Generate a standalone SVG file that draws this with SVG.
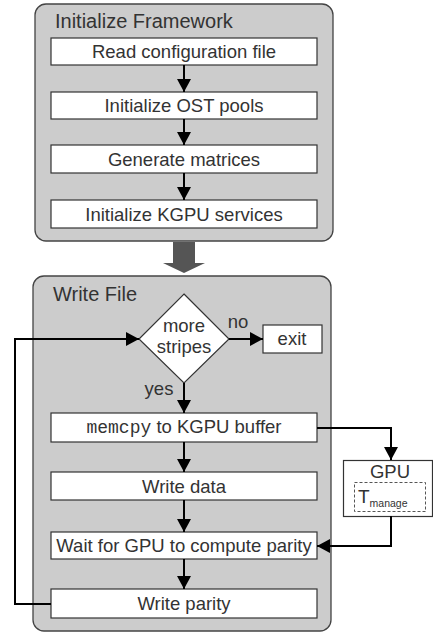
<svg xmlns="http://www.w3.org/2000/svg" width="433" height="633" viewBox="0 0 433 633">
  <style>
    .panel { fill: #cccccc; stroke: #444444; stroke-width: 1.3; }
    .step { fill: #ffffff; stroke: #333333; stroke-width: 1.2; }
    .title { font-family: "Liberation Sans", Arial, sans-serif; font-size: 20px; fill: #333333; }
    .lbl { font-family: "Liberation Sans", Arial, sans-serif; font-size: 18.5px; fill: #333333; text-anchor: middle; }
    .mono { font-family: "Liberation Mono", "Courier New", monospace; font-size: 18px; }
    .wire { fill: none; stroke: #000000; stroke-width: 2; marker-end: url(#head); }
  </style>
  <defs>
    <marker id="head" markerUnits="userSpaceOnUse" markerWidth="16" markerHeight="14" refX="13" refY="7" orient="auto">
      <path d="M0,0 L13,7 L0,14 z" fill="#000000"/>
    </marker>
  </defs>

  <rect width="433" height="633" fill="#ffffff"/>

  <!-- Initialisation panel -->
  <g id="init-panel">
    <rect class="panel" x="35" y="4" width="298" height="237" rx="11"/>
    <text class="title" x="55" y="28">Initialize Framework</text>
  </g>
  <g id="read-config">
    <rect class="step" x="51" y="38" width="266" height="27"/>
    <text class="lbl" x="184" y="58">Read configuration file</text>
  </g>
  <g id="init-ost">
    <rect class="step" x="51" y="92" width="266" height="27"/>
    <text class="lbl" x="184" y="112">Initialize OST pools</text>
  </g>
  <g id="gen-matrices">
    <rect class="step" x="51" y="145" width="266" height="28"/>
    <text class="lbl" x="184" y="166">Generate matrices</text>
  </g>
  <g id="init-kgpu">
    <rect class="step" x="51" y="200" width="266" height="28"/>
    <text class="lbl" x="184" y="221">Initialize KGPU services</text>
  </g>

  <!-- Write panel -->
  <g id="write-panel">
    <rect class="panel" x="33" y="276" width="298" height="355" rx="11"/>
    <text class="title" x="53" y="301">Write File</text>
  </g>
  <g id="more-stripes">
    <polygon points="184,294 229,339 184,383 139,339" fill="#ffffff" stroke="#333333" stroke-width="1.2"/>
    <text class="lbl" x="184" y="332">more</text>
    <text class="lbl" x="184" y="353">stripes</text>
  </g>
  <g id="exit">
    <rect class="step" x="263" y="325" width="59" height="28"/>
    <text class="lbl" x="292" y="345">exit</text>
  </g>
  <g id="memcpy">
    <rect class="step" x="51" y="413" width="266" height="29"/>
    <text class="lbl" x="184" y="433"><tspan class="mono">memcpy</tspan> to KGPU buffer</text>
  </g>
  <g id="write-data">
    <rect class="step" x="51" y="472" width="266" height="28"/>
    <text class="lbl" x="184" y="493">Write data</text>
  </g>
  <g id="wait-gpu">
    <rect class="step" x="51" y="532" width="266" height="27"/>
    <text class="lbl" x="184" y="552">Wait for GPU to compute parity</text>
  </g>
  <g id="write-parity">
    <rect class="step" x="51" y="589" width="266" height="29"/>
    <text class="lbl" x="184" y="610">Write parity</text>
  </g>

  <!-- GPU worker -->
  <g id="gpu">
    <rect class="step" x="343.5" y="460.5" width="89" height="56"/>
    <text class="lbl" x="390" y="478">GPU</text>
    <rect x="354.5" y="482.5" width="71" height="29" fill="none" stroke="#555555" stroke-width="1" stroke-dasharray="3,2"/>
    <text font-family="Liberation Sans, Arial, sans-serif" fill="#333333" x="358" y="503" font-size="19">T<tspan font-size="10.5" dy="4">manage</tspan></text>
  </g>

  <!-- Labels on branches -->
  <g id="branch-labels">
    <text class="lbl" x="238" y="328">no</text>
    <text class="lbl" x="159" y="395">yes</text>
  </g>

  <!-- Connectors -->
  <g id="connectors">
    <line class="wire" x1="184" y1="65" x2="184" y2="92"/>
    <line class="wire" x1="184" y1="119" x2="184" y2="145"/>
    <line class="wire" x1="184" y1="173" x2="184" y2="200"/>
    <!-- block arrow between panels -->
    <polygon points="173,242 195,242 195,263 205,263 184,273 163,263 173,263" fill="#555555"/>
    <line class="wire" x1="229" y1="339" x2="263" y2="339"/>
    <line class="wire" x1="184" y1="383" x2="184" y2="413"/>
    <line class="wire" x1="184" y1="442" x2="184" y2="472"/>
    <line class="wire" x1="184" y1="500" x2="184" y2="532"/>
    <line class="wire" x1="184" y1="559" x2="184" y2="589"/>
    <polyline class="wire" points="51,604 15,604 15,339 139,339"/>
    <polyline class="wire" points="317,428 391,428 391,460"/>
    <polyline class="wire" points="391,516 391,546 317,546"/>
  </g>
</svg>
